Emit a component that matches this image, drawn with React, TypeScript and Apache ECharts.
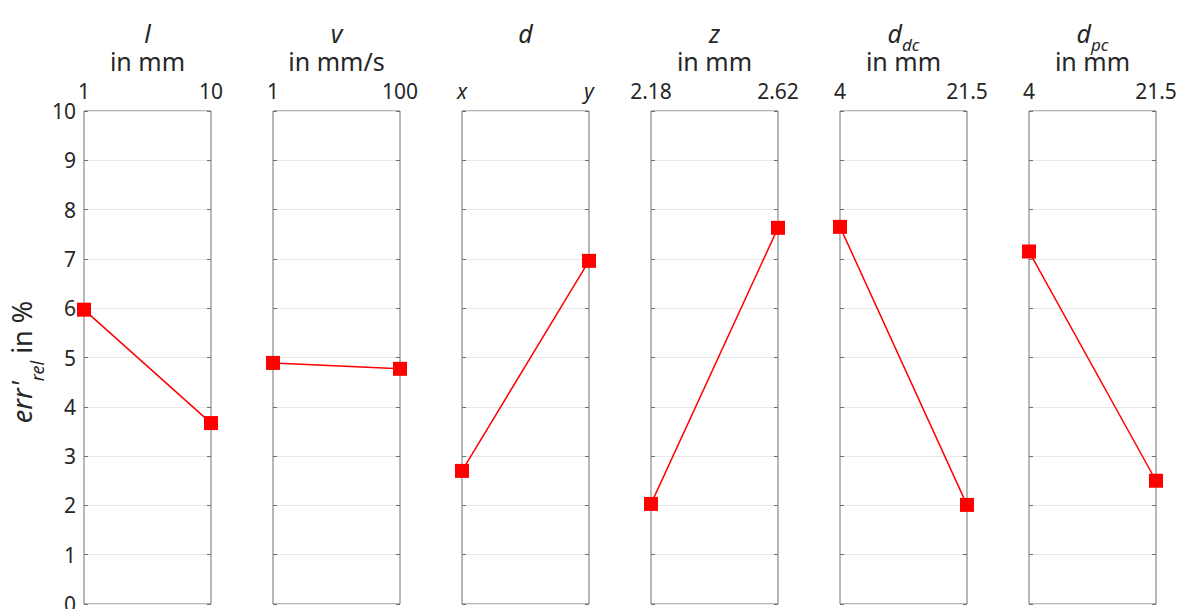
import React, { useEffect, useRef } from "react";
import * as echarts from "echarts";

const titleMain = ["l", "v", "d", "z", "d", "d"];
const titleSub = ["", "", "", "", "dc", "pc"];
const unitLabels = ["in mm", "in mm/s", "", "in mm", "in mm", "in mm"];
const levelLabels = [
  ["1", "10"],
  ["1", "100"],
  ["x", "y"],
  ["2.18", "2.62"],
  ["4", "21.5"],
  ["4", "21.5"],
];
const italicLevels = [false, false, true, false, false, false];
const errValues = [
  [5.97, 3.67],
  [4.89, 4.77],
  [2.7, 6.96],
  [2.03, 7.63],
  [7.65, 2.01],
  [7.15, 2.5],
];
const yMin = 0;
const yMax = 10;
const yStep = 1;

const FONT = "Noto Sans";
const TXT = "#262626";
const AX = "#707070";

export default function App() {
  const ref = useRef<HTMLDivElement>(null);
  useEffect(() => {
    document.body.style.margin = "0";
    const chart = echarts.init(ref.current!, null, { renderer: "svg" });
    const n = errValues.length;
    const left0 = 84;
    const pw = 127;
    const gap = 189;
    const top = 111;
    const h = 493;
    const grids: any[] = [];
    const xAxes: any[] = [];
    const yAxes: any[] = [];
    const series: any[] = [];
    const graphics: any[] = [];
    const subRich = {
      fontFamily: FONT,
      fontSize: 17,
      fontStyle: "italic",
      lineHeight: 12,
      verticalAlign: "top",
      fill: TXT,
    };
    const mainRich = {
      fontFamily: FONT,
      fontSize: 25,
      fontStyle: "italic",
      lineHeight: 26,
      verticalAlign: "top",
      fill: TXT,
    };
    for (let i = 0; i < n; i++) {
      const left = left0 + i * gap;
      grids.push({
        left,
        top,
        width: pw,
        height: h,
        outerBoundsMode: "none",
        containLabel: false,
        show: true,
        borderColor: AX,
        borderWidth: 1,
        backgroundColor: "transparent",
      });
      xAxes.push({
        type: "category",
        gridIndex: i,
        position: "top",
        boundaryGap: false,
        data: levelLabels[i],
        axisLine: { show: false },
        axisTick: { show: false },
        splitLine: { show: false },
        axisLabel: {
          interval: 0,
          margin: 10,
          fontFamily: FONT,
          fontSize: 21,
          color: TXT,
          fontStyle: italicLevels[i] ? "italic" : "normal",
        },
      });
      yAxes.push({
        type: "value",
        gridIndex: i,
        min: yMin,
        max: yMax,
        interval: yStep,
        position: "left",
        axisLine: { show: false },
        axisTick: { show: true, inside: true, length: 4, lineStyle: { color: AX } },
        splitLine: { show: true, lineStyle: { color: "#e8e8e8", width: 1 } },
        axisLabel: {
          show: i === 0,
          margin: 8,
          fontFamily: FONT,
          fontSize: 21,
          color: TXT,
        },
      });
      yAxes.push({
        type: "value",
        gridIndex: i,
        min: yMin,
        max: yMax,
        interval: yStep,
        position: "right",
        axisLine: { show: false },
        axisTick: { show: true, inside: true, length: 4, lineStyle: { color: AX } },
        splitLine: { show: false },
        axisLabel: { show: false },
      });
      series.push({
        type: "line",
        xAxisIndex: i,
        yAxisIndex: 2 * i,
        data: errValues[i],
        symbol: "rect",
        symbolSize: 14,
        itemStyle: { color: "#ff0000" },
        lineStyle: { color: "#ff0000", width: 1.5 },
        z: 5,
      });
      const cx = left + pw / 2;
      graphics.push({
        type: "text",
        x: cx,
        y: 20,
        style: {
          text: titleSub[i]
            ? `{m|${titleMain[i]}}{s|${titleSub[i]}}`
            : `{m|${titleMain[i]}}`,
          align: "center",
          verticalAlign: "top",
          fill: TXT,
          rich: {
            m: mainRich,
            s: { ...subRich, padding: [16, 0, 0, 0] },
          },
        },
      });
      if (unitLabels[i]) {
        graphics.push({
          type: "text",
          x: cx,
          y: 60.5,
          style: {
            text: unitLabels[i],
            align: "center",
            verticalAlign: "middle",
            fontFamily: FONT,
            fontSize: 25,
            lineHeight: 20,
            fill: TXT,
          },
        });
      }
    }
    graphics.push({
      type: "text",
      x: 7.5,
      y: 362,
      rotation: Math.PI / 2,
      style: {
        text: "{m|err'}{s|rel}{n| in %}",
        align: "center",
        verticalAlign: "top",
        fill: TXT,
        rich: {
          m: { ...mainRich, fontSize: 27, lineHeight: 28 },
          s: { ...subRich, fontSize: 18, lineHeight: 14, padding: [20, 0, 0, 0] },
          n: { ...mainRich, fontSize: 27, lineHeight: 28, fontStyle: "normal" },
        },
      },
    });
    chart.setOption({
      animation: false,
      backgroundColor: "#ffffff",
      grid: grids,
      xAxis: xAxes,
      yAxis: yAxes,
      series,
      graphic: graphics,
    });
    return () => chart.dispose();
  }, []);
  return <div ref={ref} style={{ width: 1184, height: 609 }} />;
}
